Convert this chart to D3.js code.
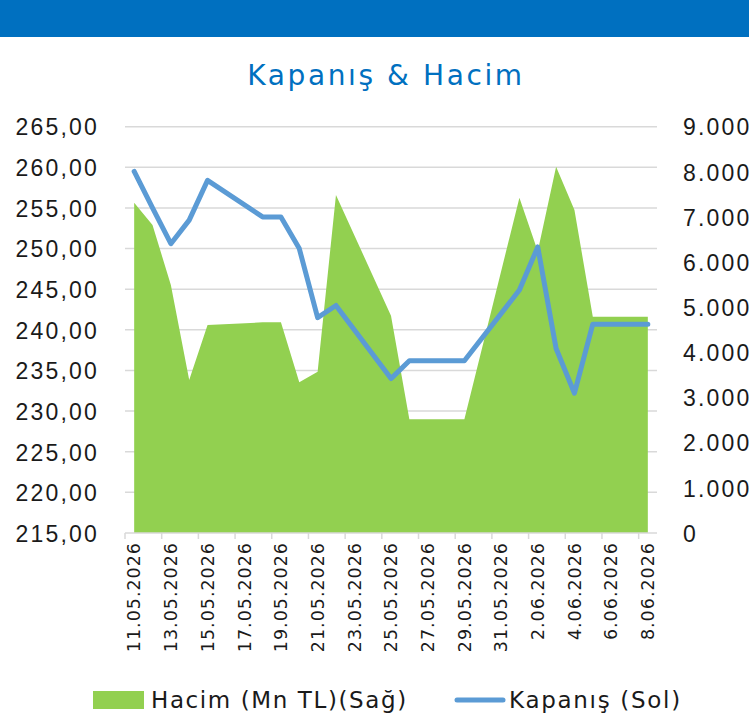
<!DOCTYPE html>
<html>
<head>
<meta charset="utf-8">
<script src="https://cdn.jsdelivr.net/npm/d3@7"></script>
<style>
  body { margin: 0; background: #fff; }
  svg { display: block; font-family: "DejaVu Sans", sans-serif; }
</style>
</head>
<body>
<svg id="chart" width="749" height="720"></svg>
<script>
// trading days shown on a daily date axis (weekends are gaps, joined straight)
const dates = ["11.05.2026", "12.05.2026", "13.05.2026", "14.05.2026", "15.05.2026",
  "18.05.2026", "19.05.2026", "20.05.2026", "21.05.2026", "22.05.2026",
  "25.05.2026", "26.05.2026", "27.05.2026", "28.05.2026", "29.05.2026",
  "1.06.2026", "2.06.2026", "3.06.2026", "4.06.2026", "5.06.2026", "8.06.2026"];
const kapanis = [259.5, 255.0, 250.6, 253.5, 258.4,
  253.9, 253.9, 250.0, 241.5, 243.0,
  234.0, 236.2, 236.2, 236.2, 236.2,
  244.9, 250.2, 237.7, 232.2, 240.7, 240.7];
const hacim = [7317, 6823, 5494, 3390, 4608,
  4667, 4667, 3338, 3574, 7488,
  4814, 2519, 2519, 2519, 2519,
  7428, 6240, 8115, 7155, 4790, 4790];
const dateLabels = ["11.05.2026", "13.05.2026", "15.05.2026", "17.05.2026", "19.05.2026",
  "21.05.2026", "23.05.2026", "25.05.2026", "27.05.2026", "29.05.2026",
  "31.05.2026", "2.06.2026", "4.06.2026", "6.06.2026", "8.06.2026"];
const leftTicks = [215, 220, 225, 230, 235, 240, 245, 250, 255, 260, 265];
const rightTicks = [0, 1000, 2000, 3000, 4000, 5000, 6000, 7000, 8000, 9000];

const svg = d3.select('#chart');
const parse = d3.utcParse('%d.%m.%Y');
const tr = d3.formatLocale({ decimal: ',', thousands: '.', grouping: [3], currency: ['', ''] });
const fmtLeft = tr.format(',.2f');
const fmtRight = tr.format(',.0f');

const margin = { left: 125, right: 92, top: 126.7, bottom: 187 };
const width = 749 - margin.left - margin.right;
const height = 720 - margin.top - margin.bottom;
const DAY = 864e5;

const data = dates.map((d, i) => ({ date: parse(d), close: kapanis[i], vol: hacim[i] }));

const first = parse(dates[0]), last = parse(dates[dates.length - 1]);
const xScale = d3.scaleUtc()
  .domain([new Date(+first - DAY / 2), new Date(+last + DAY / 2)])
  .range([0, width]);
const yLeft = d3.scaleLinear().domain([215, 265]).range([height, 0]);
const yRight = d3.scaleLinear().domain([0, 9000]).range([height, 0]);

// banner + title
svg.append('rect').attr('x', 0).attr('y', 0).attr('width', 749).attr('height', 37)
  .attr('fill', '#0070c0');
svg.append('text')
  .attr('x', 386).attr('y', 85)
  .attr('text-anchor', 'middle')
  .attr('fill', '#0070c0')
  .style('font-size', '28px')
  .style('letter-spacing', '2.6px')
  .text('Kapanış & Hacim');

const g = svg.append('g').attr('transform', `translate(${margin.left},${margin.top})`);

// grid
g.append('g').selectAll('line')
  .data(leftTicks.slice(1))
  .join('line')
  .attr('x1', 0).attr('x2', width)
  .attr('y1', d => yLeft(d)).attr('y2', d => yLeft(d))
  .attr('stroke', '#d9d9d9').attr('stroke-width', 1.5);

// volume area
const area = d3.area()
  .x(d => xScale(d.date))
  .y0(yRight(0))
  .y1(d => yRight(d.vol));
g.append('path').datum(data)
  .attr('d', area)
  .attr('fill', '#92d050');

// closing line
const line = d3.line()
  .x(d => xScale(d.date))
  .y(d => yLeft(d.close));
g.append('path').datum(data)
  .attr('d', line)
  .attr('fill', 'none')
  .attr('stroke', '#5b9bd5')
  .attr('stroke-width', 5)
  .attr('stroke-linejoin', 'round')
  .attr('stroke-linecap', 'round');

// left axis
const axL = g.append('g').attr('transform', 'translate(-23,0)')
  .call(d3.axisLeft(yLeft).tickValues(leftTicks).tickFormat(fmtLeft).tickSize(0));
axL.select('.domain').remove();
axL.selectAll('text').attr('fill', '#1a1a1a').style('font-size', '23px')
  .style('letter-spacing', '2.2px').attr('dy', '0.36em');

// right axis
const axR = g.append('g').attr('transform', `translate(${width + 23},0)`)
  .call(d3.axisRight(yRight).tickValues(rightTicks).tickFormat(fmtRight).tickSize(0));
axR.select('.domain').remove();
axR.selectAll('text').attr('fill', '#1a1a1a').style('font-size', '23px')
  .style('letter-spacing', '2.2px').attr('dy', '0.36em');

// x axis
const tickDates = dateLabels.map(d => new Date(+parse(d) - DAY / 2));
const axX = g.append('g').attr('transform', `translate(0,${height})`);
axX.append('line').attr('x1', 0).attr('x2', width)
  .attr('stroke', '#d9d9d9').attr('stroke-width', 1.5);
axX.selectAll('.tick')
  .data(tickDates)
  .join('line')
  .attr('class', 'tick')
  .attr('x1', d => xScale(d)).attr('x2', d => xScale(d))
  .attr('y1', 0).attr('y2', 6)
  .attr('stroke', '#d9d9d9').attr('stroke-width', 1.5);
axX.selectAll('.lbl')
  .data(dateLabels)
  .join('text')
  .attr('class', 'lbl')
  .attr('transform', d => `translate(${xScale(parse(d))},9) rotate(-90)`)
  .attr('text-anchor', 'end')
  .attr('dy', '0.36em')
  .attr('fill', '#1a1a1a')
  .style('font-size', '17.5px')
  .style('letter-spacing', '1px')
  .text(d => d);

// legend
const leg = svg.append('g');
leg.append('rect').attr('x', 93).attr('y', 691).attr('width', 51).attr('height', 18)
  .attr('fill', '#92d050');
leg.append('text').attr('x', 151).attr('y', 700).attr('dy', '0.36em')
  .attr('fill', '#1a1a1a').style('font-size', '23px').style('letter-spacing', '1.6px')
  .text('Hacim (Mn TL)(Sağ)');
leg.append('line').attr('x1', 457).attr('x2', 503).attr('y1', 700).attr('y2', 700)
  .attr('stroke', '#5b9bd5').attr('stroke-width', 5).attr('stroke-linecap', 'round');
leg.append('text').attr('x', 509).attr('y', 700).attr('dy', '0.36em')
  .attr('fill', '#1a1a1a').style('font-size', '23px').style('letter-spacing', '1.7px')
  .text('Kapanış (Sol)');
</script>
</body>
</html>
